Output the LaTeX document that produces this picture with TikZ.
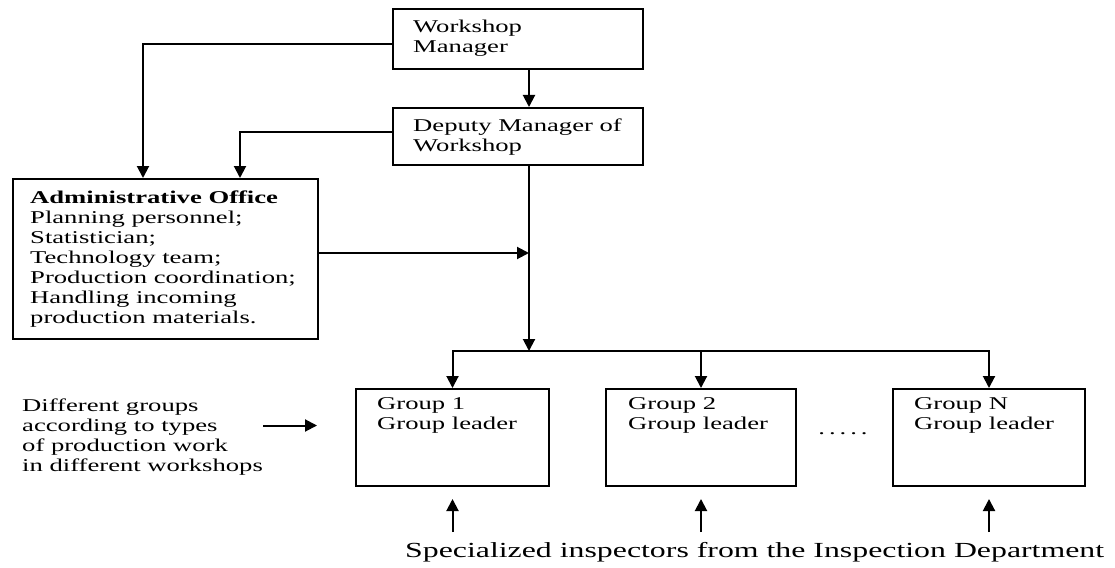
\documentclass[tikz,border=0pt]{standalone}
\usepackage{fontspec}
\setmainfont{Liberation Serif}[FakeStretch=1.48]
\usepackage{tikz}
\usetikzlibrary{arrows.meta}

\tikzset{
	box/.style={draw, line width=2pt, inner sep=0pt, anchor=north west},
	txt/.style={anchor=north west, inner sep=0pt, align=left, font=\fontsize{18}{20}\selectfont},
	arr/.style={line width=2pt, -{Triangle[length=12pt,width=12pt]}}
}

\begin{document}
\begin{tikzpicture}[x=1pt,y=-1pt]
	
	\useasboundingbox (0,0) rectangle (1115,567);
	%	\draw[gray!30] (0,0) grid[step=50] (1115,567);
	
	\node[box, minimum width=250pt, minimum height=60pt] (wm) at (392,8) {};
	\node[box, minimum width=250pt, minimum height=57pt] (dm) at (392,107) {};
	\node[box, minimum width=305pt, minimum height=160pt] (ad) at (12,178) {};
	\node[box, minimum width=193pt, minimum height=97pt] (g1) at (355,388) {};
	\node[box, minimum width=190pt, minimum height=97pt] (g2) at (605,388) {};
	\node[box, minimum width=192pt, minimum height=97pt] (gn) at (892,388) {};
	
	\node[txt] (wmtxt) at (413,20) {Workshop\\Manager};
	\node[txt] (dmtxt) at (413,119) {Deputy Manager of\\Workshop};
	\node[txt] (adtxt) at (30,191) {\textbf{Administrative Office}\\Planning personnel;\\Statistician;\\Technology team;\\Production coordination;\\Handling incoming\\production materials.};
	\node[txt] (g1txt) at (377,397) {Group 1\\Group leader};
	\node[txt] (g2txt) at (628,397) {Group 2\\Group leader};
	\node[txt] (gntxt) at (914,397) {Group N\\Group leader};
	\node[txt] (note) at (22,399) {Different groups\\according to types\\of production work\\in different workshops};
	\node[txt, font=\fontsize{21.5}{24}\selectfont] (insp) at (405,542) {Specialized inspectors from the Inspection Department};
	\node[inner sep=0pt, font=\fontsize{18}{20}\selectfont] (dots) at (843,434) {.\kern4pt.\kern4pt.\kern4pt.\kern4pt.};
	
	\coordinate (sp) at ([xshift=11pt]dm.south);
	\path (sp) ++(0,185) coordinate (bus);
	\coordinate (gin) at ([xshift=-38pt,yshift=12pt]g1.west);
	
	\draw[arr] ([xshift=11pt]wm.south) -- ([xshift=11pt]dm.north);
	\draw[arr] ([yshift=-5pt]wm.west) -| ([xshift=131pt]ad.north west);
	\draw[arr] ([yshift=5pt]dm.west) -| ([xshift=228pt]ad.north west);
	\draw[arr] ([yshift=6pt]ad.east) -- ([yshift=6pt]ad.east -| sp);
	\draw[arr] (sp) -- (bus);
	\draw[arr] (bus) -| (g1.north);
	\draw[arr] (bus) -| (gn.north);
	\draw[arr] (g2.north |- bus) -- (g2.north);
	\draw[arr] (note.east |- gin) -- (gin);
	
	\foreach \g in {g1,g2,gn}
		\draw[arr] ([yshift=-45pt]\g.south) -- ([yshift=-12pt]\g.south);
	
\end{tikzpicture}
\end{document}
